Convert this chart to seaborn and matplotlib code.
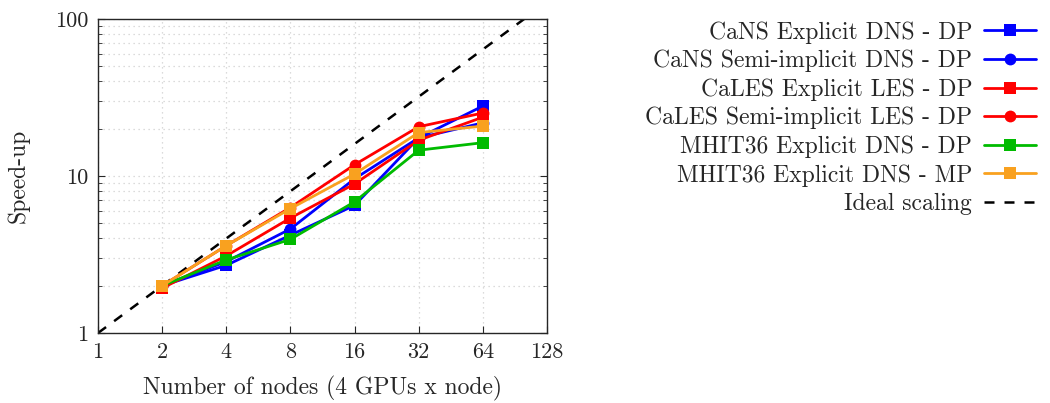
import numpy as np
import pandas as pd
import matplotlib
matplotlib.use("Agg")
import matplotlib.pyplot as plt
import seaborn as sns
from matplotlib.ticker import FixedLocator, FixedFormatter, LogLocator, NullFormatter

# ---- data ----
nodes = [2, 4, 8, 16, 32, 64]
cans_exp = [2.0, 2.7, 4.2, 6.5, 17.5, 27.9]
cans_semi = [2.0, 2.85, 4.6, 9.6, 17.5, 21.8]
cales_exp = [1.93, 3.1, 5.4, 8.9, 16.9, 23.7]
cales_semi = [2.0, 3.6, 6.3, 11.8, 20.6, 25.2]
mhit_dp = [2.0, 2.92, 3.95, 6.85, 14.6, 16.3]
mhit_mp = [2.0, 3.6, 6.2, 10.3, 18.9, 20.8]

labels = [
    "CaNS Explicit DNS - DP",
    "CaNS Semi-implicit DNS - DP",
    "CaLES Explicit LES - DP",
    "CaLES Semi-implicit LES - DP",
    "MHIT36 Explicit DNS - DP",
    "MHIT36 Explicit DNS - MP",
]
series = [cans_exp, cans_semi, cales_exp, cales_semi, mhit_dp, mhit_mp]
colors = ["#0000ff", "#0000ff", "#ff0000", "#ff0000", "#00bb00", "#f9a11f"]
markers = ["s", "o", "s", "o", "s", "s"]

ideal_x = [1, 128]
ideal_y = [1, 128]

xticks = [1, 2, 4, 8, 16, 32, 64, 128]
yticks = [1, 10, 100]

sns.set_style("ticks")
plt.rcParams["font.family"] = ["cmr10", "DejaVu Serif"]
plt.rcParams["axes.formatter.use_mathtext"] = True
plt.rcParams["mathtext.fontset"] = "cm"

fig = plt.figure(figsize=(10.5, 4.03), dpi=100)
ax = fig.add_axes([98 / 1050, 1 - 333 / 403, (547 - 98) / 1050, (333 - 19) / 403])

for lab, vals, c, m in zip(labels, series, colors, markers):
    df = pd.DataFrame({"nodes": nodes, "speedup": vals})
    sns.lineplot(data=df, x="nodes", y="speedup", ax=ax, color=c, marker=m,
                 markersize=8.5, markeredgewidth=0, linewidth=2, label=lab, zorder=3)

ax.plot(ideal_x, ideal_y, color="black", linestyle=(0, (4, 4)), linewidth=1.8,
        label="Ideal scaling", zorder=2)

ax.set_xscale("log", base=2)
ax.set_yscale("log")
ax.set_xlim(1, 128)
ax.set_ylim(1, 100)
ax.xaxis.set_major_locator(FixedLocator(xticks))
ax.xaxis.set_major_formatter(FixedFormatter([str(t) for t in xticks]))
ax.xaxis.set_minor_locator(FixedLocator([]))
ax.yaxis.set_major_locator(FixedLocator(yticks))
ax.yaxis.set_major_formatter(FixedFormatter([str(t) for t in yticks]))
ax.yaxis.set_minor_locator(LogLocator(base=10, subs=np.arange(2, 10)))
ax.yaxis.set_minor_formatter(NullFormatter())

ax.grid(True, which="major", color="#d0d0d0", linestyle=(0, (1, 3)), linewidth=0.9)
ax.grid(True, which="minor", axis="y", color="#d0d0d0", linestyle=(0, (1, 3)), linewidth=0.9)
ax.tick_params(which="both", direction="in", top=False, right=True, labelsize=16)
ax.tick_params(which="major", length=5, pad=7)
ax.tick_params(which="minor", length=3)
for s in ax.spines.values():
    s.set_linewidth(1.0)

ax.set_xlabel("Number of nodes (4 GPUs x node)", fontsize=17, labelpad=10)
ax.set_ylabel("Speed-up", fontsize=17, labelpad=18)

ax.legend(loc="upper right", bbox_to_anchor=(1036 / 1050, 1 - 21 / 403),
          bbox_transform=fig.transFigure, frameon=False, markerfirst=False,
          borderpad=0, borderaxespad=0,
          fontsize=17, handlelength=2.2, labelspacing=0.26, handletextpad=0.5)

fig.savefig("out.png", dpi=100)
